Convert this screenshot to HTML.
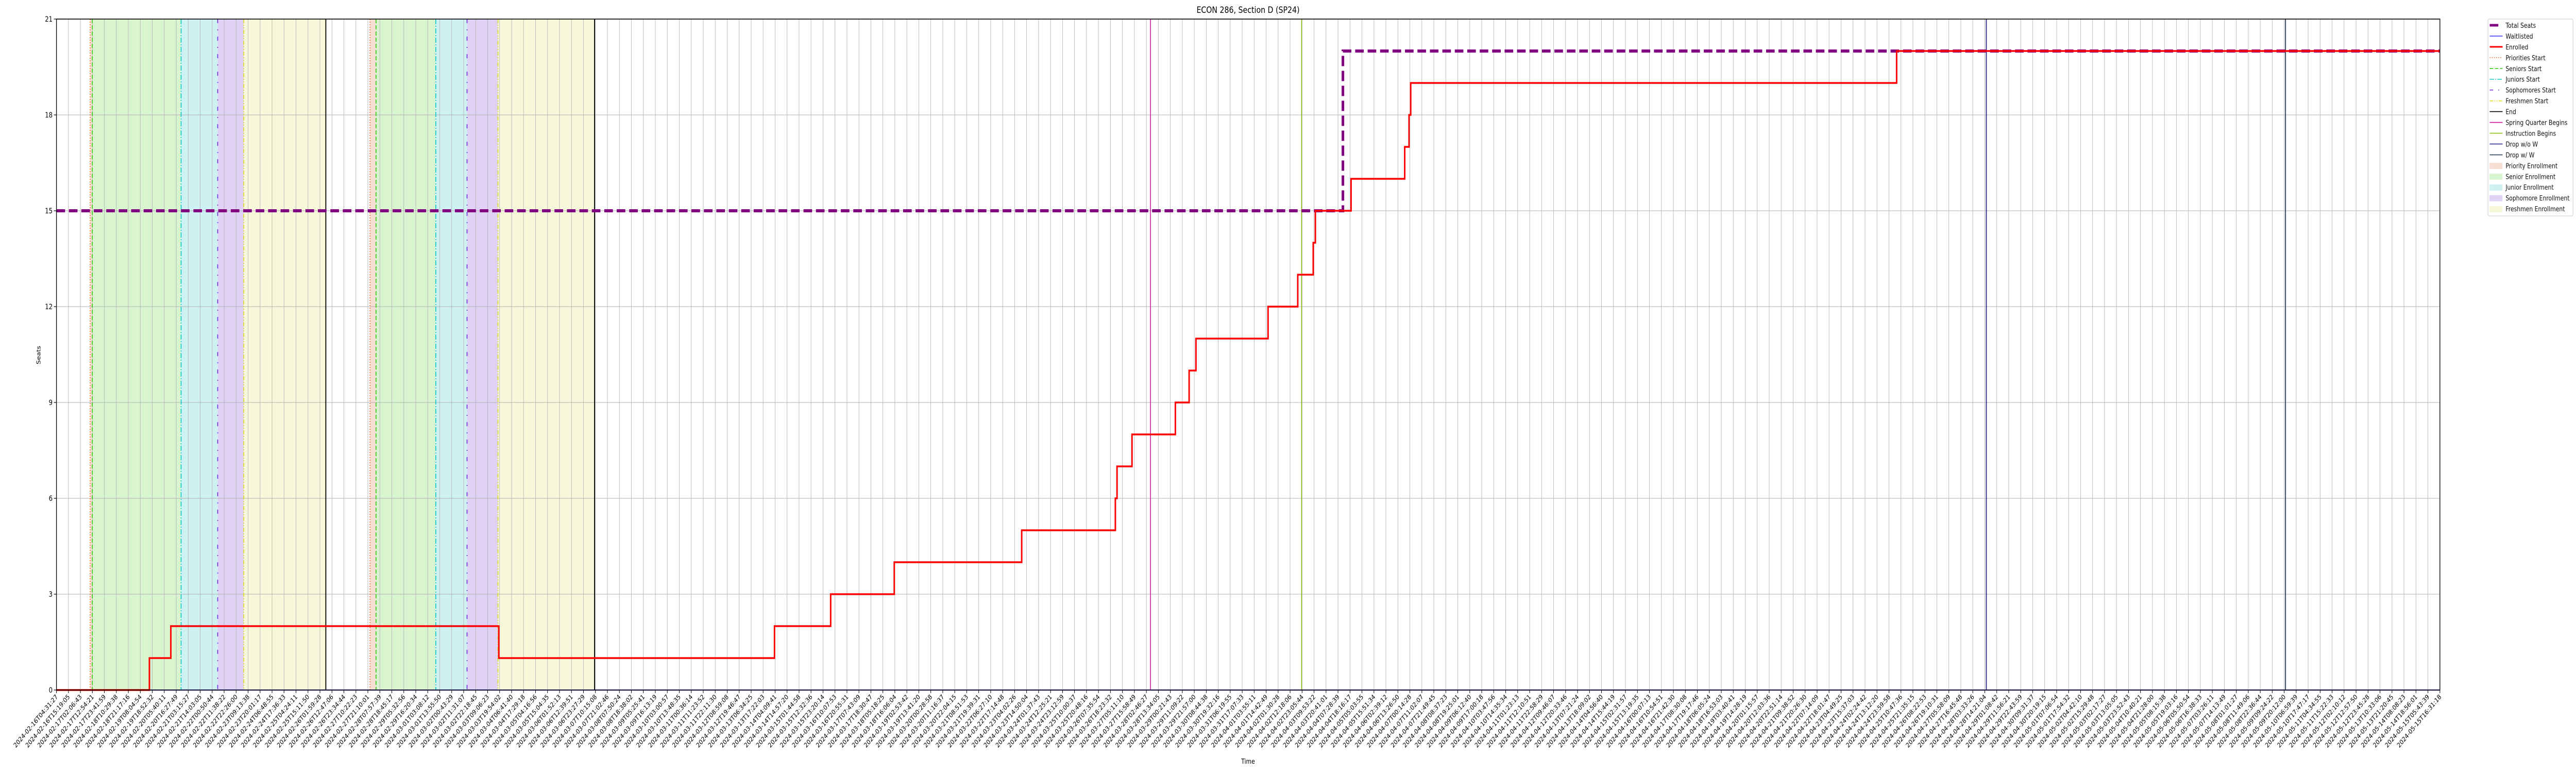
<!DOCTYPE html>
<html><head><meta charset="utf-8">
<style>
html,body{margin:0;padding:0;background:#fff;width:100%;height:100%;overflow:hidden;}
svg{display:block;position:absolute;left:0;top:0;width:100vw;height:100vh;font-family:"DejaVu Sans","Liberation Sans",sans-serif;overflow:hidden;}
</style></head>
<body>
<svg id="chart" viewBox="0 0 6000 1500" preserveAspectRatio="none" xmlns="http://www.w3.org/2000/svg">
<rect x="0" y="0" width="6000" height="1500" fill="#fff"/>
<text x="2907" y="25" text-anchor="middle" font-size="17">ECON 286, Section D (SP24)</text>
<text x="2907" y="1482" text-anchor="middle" font-size="13">Time</text>
<text x="94" y="689" text-anchor="middle" font-size="13" transform="rotate(-90 94 689)">Seats</text>
<g id="bands"></g><g id="grid"></g><g id="events"></g><g id="series"></g><g id="axes"></g><g id="legend"></g>
</svg>
<script>
// ---- data (x in tick-index units, 0..199) ----
const tickStart = "2024-02-16T04:31:27";
const tickEnd = "2024-05-15T16:31:18";
const tickCount = 200;
const yTicks = [0, 3, 6, 9, 12, 15, 18, 21];
const enrolledX = [0, 7.76, 9.55, 36.93, 59.95, 64.64, 69.95, 80.59, 88.41, 88.55, 89.80, 93.42, 94.57, 95.14, 101.16, 103.64, 104.93, 105.11, 108.09, 112.57, 112.93, 113.07, 153.64, 199];
const enrolledY = [0, 1, 2, 1, 2, 3, 4, 5, 6, 7, 8, 9, 10, 11, 12, 13, 14, 15, 16, 17, 18, 19, 20, 20];
const seatsX = [0, 107.41, 199];
const seatsY = [15, 20, 20];
const waitX = [0, 199];
const waitY = [0, 0];
const eventNames = ["priorities-start","seniors-start","juniors-start","sophomores-start","freshmen-start","end","priorities-start-2","seniors-start-2","juniors-start-2","sophomores-start-2","freshmen-start-2","end-2","spring-quarter-begins","instruction-begins","drop-without-w","drop-with-w"];
const eventX = [2.81, 2.99, 10.41, 13.46, 15.64, 22.49, 26.18, 26.68, 31.67, 34.28, 36.86, 44.93, 91.34, 103.96, 161.13, 186.11];
const eventKind = ["pri","sen","jun","sop","fre","end","pri","sen","jun","sop","fre","end","spr","ins","dwo","dw"];
const bandStart = [2.81, 2.99, 10.41, 13.46, 15.64, 26.18, 26.68, 31.67, 34.28, 36.86];
const bandEnd = [2.99, 10.41, 13.46, 15.64, 22.49, 26.68, 31.67, 34.28, 36.86, 44.93];
const bandKind = ["pri","sen","jun","sop","fre","pri","sen","jun","sop","fre"];

const L = 131.5, R = 5683, T = 37, B = 1339;
const X = v => L + v / (tickCount - 1) * (R - L);
const Y = v => B - v / 21 * (B - T);
const NS = "http://www.w3.org/2000/svg";
function mk(tag, parent, attrs) { const e = document.createElementNS(NS, tag); for (const k in attrs) e.setAttribute(k, attrs[k]); parent.appendChild(e); return e; }
const styles = {
  pri: {c:"#f07030", d:"2,3", w:2}, sen: {c:"#33cc11", d:"8,4", w:2}, jun: {c:"#11c8cc", d:"10,3,2,3", w:2},
  sop: {c:"#7733dd", d:"8,12,2,12", w:2}, fre: {c:"#dddd22", d:"8,3,2,3,2,3", w:2}, end: {c:"#000", d:"", w:2.2},
  spr: {c:"#cc1199", d:"", w:1.8}, ins: {c:"#88bb00", d:"", w:1.8}, dwo: {c:"#2e2a8c", d:"", w:2.2}, dw: {c:"#2f3e5c", d:"", w:2.2}
};
const fills = {pri:"#f6ded5", sen:"#d9f5d0", jun:"#cef1f2", sop:"#e0d2f4", fre:"#f7f8d9"};
const bandNames = {pri:"priority-enrollment-band", sen:"senior-enrollment-band", jun:"junior-enrollment-band", sop:"sophomore-enrollment-band", fre:"freshmen-enrollment-band"};

const gB = document.getElementById("bands");
for (let i = 0; i < bandStart.length; i++) {
  const r = mk("rect", gB, {x: X(bandStart[i]), y: T, width: X(bandEnd[i]) - X(bandStart[i]), height: B - T, fill: fills[bandKind[i]]});
  
  
}
const gG = document.getElementById("grid");
for (let i = 0; i < tickCount; i++) {
  const l = mk("line", gG, {x1: X(i), x2: X(i), y1: T, y2: B, stroke: "#b0b0b0", "stroke-width": 1});
  
  
}
yTicks.forEach(v => {
  const l = mk("line", gG, {x1: L, x2: R, y1: Y(v), y2: Y(v), stroke: "#b0b0b0", "stroke-width": 1});
  
  
});
const gE = document.getElementById("events");
for (let i = 0; i < eventX.length; i++) {
  const s = styles[eventKind[i]];
  const a = {x1: X(eventX[i]), x2: X(eventX[i]), y1: T, y2: B, stroke: s.c, "stroke-width": s.w};
  if (s.d) a["stroke-dasharray"] = s.d;
  const l = mk("line", gE, a);
  
  
}
function stepPath(xs, ys) {
  let d = "M" + X(xs[0]) + "," + Y(ys[0]);
  for (let i = 1; i < xs.length; i++) d += " L" + X(xs[i]) + "," + Y(ys[i - 1]) + " L" + X(xs[i]) + "," + Y(ys[i]);
  return d;
}
const gS = document.getElementById("series");
const ps = mk("path", gS, {d: stepPath(seatsX, seatsY), fill: "none", stroke: "#800080", "stroke-width": 6, "stroke-dasharray": "20,9"});


const pw = mk("path", gS, {d: stepPath(waitX, waitY), fill: "none", stroke: "#3333ff", "stroke-width": 2});


const pe = mk("path", gS, {d: stepPath(enrolledX, enrolledY), fill: "none", stroke: "#ff0000", "stroke-width": 3.5});


const gA = document.getElementById("axes");
const frame = mk("rect", gA, {x: L, y: T, width: R - L, height: B - T, fill: "none", stroke: "#000", "stroke-width": 1.6});


yTicks.forEach(v => {
  const tl = mk("line", gA, {x1: L - 6, x2: L, y1: Y(v), y2: Y(v), stroke: "#000", "stroke-width": 1.2});
  
  
  const t = mk("text", gA, {x: L - 9, y: Y(v) + 5, "text-anchor": "end", "font-size": 14});
  t.textContent = v;
  
  
});
const t0 = Date.parse(tickStart + "Z"), t1 = Date.parse(tickEnd + "Z");
for (let i = 0; i < tickCount; i++) {
  const tl = mk("line", gA, {x1: X(i), x2: X(i), y1: B, y2: B + 6, stroke: "#000", "stroke-width": 1.2});
  
  
  const lab = new Date(t0 + (t1 - t0) * i / (tickCount - 1)).toISOString().slice(0, 19);
  const x = X(i) + 4, y = B + 14;
  const t = mk("text", gA, {x: x, y: y, "text-anchor": "end", "font-size": 12.8, transform: "rotate(-45 " + x + " " + y + ")"});
  t.textContent = lab;
  
  
}
const gL = document.getElementById("legend");
const box = mk("rect", gL, {x: 5795, y: 37, width: 198, height: 382, rx: 3, fill: "#fff", stroke: "#d0d0d0", "stroke-width": 1.2});


const legLabels = ["Total Seats","Waitlisted","Enrolled","Priorities Start","Seniors Start","Juniors Start","Sophomores Start","Freshmen Start","End","Spring Quarter Begins","Instruction Begins","Drop w/o W","Drop w/ W","Priority Enrollment","Senior Enrollment","Junior Enrollment","Sophomore Enrollment","Freshmen Enrollment"];
const legKinds = ["seats","wait","enr","pri","sen","jun","sop","fre","end","spr","ins","dwo","dw","fpri","fsen","fjun","fsop","ffre"];
for (let i = 0; i < legLabels.length; i++) {
  const y = 49 + i * 20.95, k = legKinds[i];
  let h;
  if (k === "seats") h = mk("line", gL, {x1: 5799, x2: 5819, y1: y, y2: y, stroke: "#800080", "stroke-width": 5});
  else if (k === "wait") h = mk("line", gL, {x1: 5799, x2: 5829, y1: y, y2: y, stroke: "#3333ff", "stroke-width": 1.5});
  else if (k === "enr") h = mk("line", gL, {x1: 5799, x2: 5829, y1: y, y2: y, stroke: "#ff0000", "stroke-width": 3});
  else if (k[0] === "f" && fills[k.slice(1)]) h = mk("rect", gL, {x: 5799, y: y - 5, width: 29, height: 11, fill: fills[k.slice(1)], stroke: fills[k.slice(1)]});
  else { const s = styles[k]; const a = {x1: 5799, x2: 5829, y1: y, y2: y, stroke: s.c, "stroke-width": 1.6}; if (s.d) a["stroke-dasharray"] = s.d; h = mk("line", gL, a); }
  
  
  const t = mk("text", gL, {x: 5836, y: y + 5, "font-size": 13, fill: "#111"});
  t.textContent = legLabels[i];
  
  
}
</script>
</body></html>
